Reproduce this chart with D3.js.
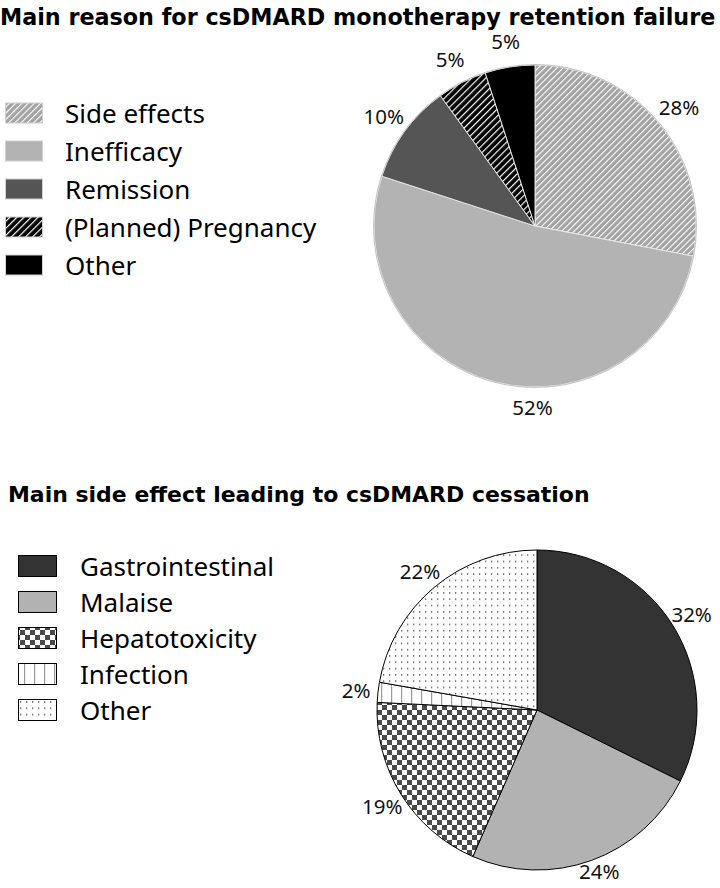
<!DOCTYPE html>
<html><head><meta charset="utf-8">
<script src="https://cdn.jsdelivr.net/npm/d3@7"></script>
<style>body{margin:0;background:#fff}svg{display:block}</style>
</head><body>
<script>
// ---- data ----
const title1 = "Main reason for csDMARD monotherapy retention failure";
const reasons = ["Side effects","Inefficacy","Remission","(Planned) Pregnancy","Other"];
const reasonValues = [28,52,10,5,5];
const title2 = "Main side effect leading to csDMARD cessation";
const sideEffects = ["Gastrointestinal","Malaise","Hepatotoxicity","Infection","Other"];
const sideEffectValues = [32,24,19,2,22];

const W=720,H=888;
const svg=d3.select("body").append("svg").attr("width",W).attr("height",H);
const defs=svg.append("defs");
const FONT="'Noto Sans', 'Open Sans', sans-serif";
const TFONT="'DejaVu Sans', 'Noto Sans', sans-serif";

// patterns
function hatch(id,bg,line,sp,lw){
  const p=defs.append("pattern").attr("id",id).attr("patternUnits","userSpaceOnUse")
    .attr("width",sp).attr("height",sp).attr("patternTransform","rotate(45)");
  p.append("rect").attr("width",sp).attr("height",sp).attr("fill",bg);
  p.append("rect").attr("x",0).attr("width",lw).attr("height",sp).attr("fill",line);
}
hatch("hSide","#a3a3a3","#ffffff",4.4,1.1);
hatch("hPreg","#000000","#ffffff",5,1.2);
{ const p=defs.append("pattern").attr("id","checker").attr("patternUnits","userSpaceOnUse").attr("width",10).attr("height",10);
  p.append("rect").attr("width",10).attr("height",10).attr("fill","#ffffff");
  p.append("rect").attr("width",5).attr("height",5).attr("fill","#4a4a4a");
  p.append("rect").attr("x",5).attr("y",5).attr("width",5).attr("height",5).attr("fill","#4a4a4a"); }
{ const p=defs.append("pattern").attr("id","vlines").attr("patternUnits","userSpaceOnUse").attr("width",10).attr("height",10);
  p.append("rect").attr("width",10).attr("height",10).attr("fill","#ffffff");
  p.append("rect").attr("x",4).attr("width",1.2).attr("height",10).attr("fill","#9a9a9a"); }
{ const p=defs.append("pattern").attr("id","dots").attr("patternUnits","userSpaceOnUse").attr("width",6).attr("height",6.3);
  p.append("rect").attr("width",6).attr("height",6.3).attr("fill","#ffffff");
  p.append("rect").attr("x",2).attr("y",2).attr("width",1.3).attr("height",1.3).attr("fill","#444"); }

const fills1=["url(#hSide)","#b3b3b3","#555555","url(#hPreg)","#000000"];
const fills2=["#333333","#b2b2b2","url(#checker)","url(#vlines)","url(#dots)"];

const pie=d3.pie().sort(null).value(d=>d);

function drawPie(values,fills,cx,cy,r,stroke,labelR,shiftX,shiftY){
  const g=svg.append("g").attr("transform",`translate(${cx},${cy})`);
  const arcs=pie(values);
  const arc=d3.arc().innerRadius(0).outerRadius(r);
  const larc=d3.arc().innerRadius(labelR).outerRadius(labelR);
  g.selectAll("path").data(arcs).join("path").attr("d",arc)
    .attr("fill",(d,i)=>fills[i]).attr("stroke",stroke).attr("stroke-width",1);
  const total=d3.sum(values);
  g.selectAll("text").data(arcs).join("text")
    .attr("transform",(d,i)=>{const c=larc.centroid(d);return `translate(${c[0]+(shiftX[i]||0)},${c[1]+(shiftY[i]||0)})`;})
    .attr("text-anchor","middle").attr("dominant-baseline","central")
    .attr("font-family",FONT).attr("font-size",20.5).attr("fill","#111")
    .text((d,i)=>Math.round(values[i]/total*100)+"%");
  return g;
}
const g1=drawPie(reasonValues,fills1,535,226,161,"#e6e6e6",187,[0,44,0,0,0],[0,0,0,0,0]);
g1.append("circle").attr("r",161.5).attr("fill","none").attr("stroke","#b8b8b8").attr("stroke-width",0.8);
drawPie(sideEffectValues,fills2,537,710,160,"#000",182,[0,0,0,0,0],[0,-10,0,0,0]);

// titles (fit to measured width in reference)
function title(txt,x,y,targetW){
  const t=svg.append("text").attr("x",x).attr("y",y).attr("font-family",TFONT).attr("font-weight","bold")
    .attr("font-size",20).attr("fill","#000").text(txt);
  const w=t.node().getComputedTextLength();
  t.attr("font-size",20*targetW/w);
}
title(title1,0,25,716);
title(title2,8,502,582);

// legends
function legend(names,fills,x,y0,dy,sw,sh,tx,border){
  const g=svg.append("g");
  names.forEach((n,i)=>{
    const y=y0+i*dy;
    g.append("rect").attr("x",x).attr("y",y-sh/2).attr("width",sw).attr("height",sh)
      .attr("fill",fills[i]).attr("stroke",border).attr("stroke-width",1);
    g.append("text").attr("x",tx).attr("y",y).attr("dominant-baseline","central")
      .attr("font-family",FONT).attr("font-size",26).attr("fill","#000").text(n);
  });
}
legend(reasons,fills1,5.5,113,38,37,20,65,"#d0d0d0");
legend(sideEffects,fills2,18.5,566,36,38,21,80,"#000");
</script>
</body></html>
